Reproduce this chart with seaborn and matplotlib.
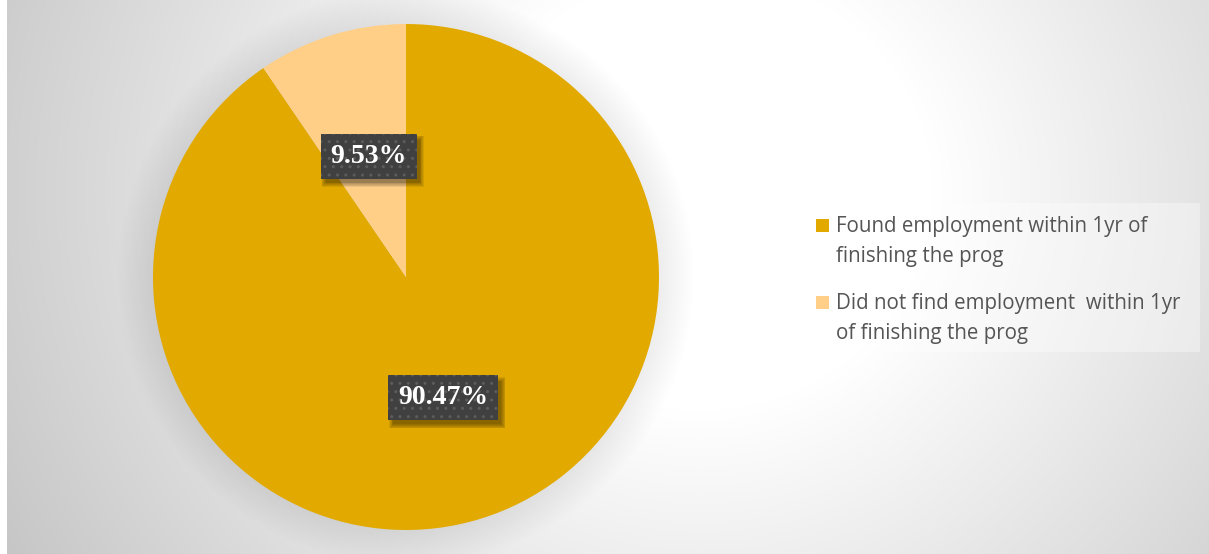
import numpy as np
import matplotlib
matplotlib.use("Agg")
import matplotlib.pyplot as plt
from matplotlib.patches import Circle, Rectangle
import seaborn as sns

# Data
categories = [
    "Found employment within 1yr of\nfinishing the prog",
    "Did not find employment  within 1yr\nof finishing the prog",
]
shares = [90.47, 9.53]
slice_colors = ["#E2AA00", "#FFCF88"]

sns.set_theme(style="white")
palette = sns.color_palette(slice_colors)

W, H = 1209, 554
fig = plt.figure(figsize=(W / 100, H / 100), dpi=100)
ax = fig.add_axes([0, 0, 1, 1])

# Soft radial backdrop, light in the middle and grey toward the edges
yy, xx = np.mgrid[0:H, 0:W]
dist = np.hypot((xx - 700) * 0.95, yy - 190)
val = np.clip(1 - 0.00042 * np.clip(dist - 220, 0, None), 0.77, 1.0)
bg = np.dstack([val, val, val])
bg[:, :7] = 1.0
ax.imshow(bg, extent=(0, W, 0, H), origin="upper", zorder=0,
          aspect="auto", interpolation="bilinear")

cx, cy, R = 406, H - 277, 253

# Soft glow under the pie
for k in range(18):
    ax.add_patch(Circle((cx, cy), R + 1 + 2.0 * k, color="#808080",
                        alpha=0.009, lw=0, zorder=1))

wedges, texts, autotexts = ax.pie(
    shares, colors=palette, startangle=90, counterclock=False,
    center=(cx, cy), radius=R, autopct="%.2f%%", pctdistance=0.5,
    wedgeprops=dict(linewidth=0, zorder=2),
)

for t in autotexts:
    t.set_fontfamily("Liberation Serif")
    t.set_fontweight("bold")
    t.set_fontsize(20)
    t.set_color("white")
    t.set_zorder(5)
    t.set_bbox(dict(boxstyle="square,pad=0.36", facecolor="#404040",
                    edgecolor="#5c5c5c", linewidth=0, hatch=".."))

ax.set_xlim(0, W)
ax.set_ylim(0, H)
ax.set_aspect("auto")
ax.set_position([0, 0, 1, 1])
ax.axis("off")

# Blurred drop shadows under the label boxes
fig.canvas.draw()
inv = ax.transData.inverted()
for t in autotexts:
    ext = t.get_bbox_patch().get_window_extent()
    (x0, y0), (x1, y1) = inv.transform([[ext.x0, ext.y0], [ext.x1, ext.y1]])
    for s in range(6):
        grow = 3 - s * 0.8
        ax.add_patch(Rectangle((x0 + 4 - grow, y0 - 5 - grow),
                               (x1 - x0) + 2 * grow, (y1 - y0) + 2 * grow,
                               facecolor="black", alpha=0.08, lw=0, zorder=4))

# Legend panel
ax.add_patch(Rectangle((803, H - 352), 397, 149, facecolor="white",
                       alpha=0.35, lw=0, zorder=3))
first_baselines = [232, 309]
for label, color, base in zip(categories, palette, first_baselines):
    ax.add_patch(Rectangle((816, H - base), 13, 13, facecolor=color,
                           lw=0, zorder=4))
    for i, line in enumerate(label.split("\n")):
        ax.text(836, H - (base + 30 * i), line, fontsize=14.8,
                fontfamily="Open Sans", color="#555555", va="baseline",
                ha="left", zorder=4)

fig.savefig("out.png", dpi=100)
